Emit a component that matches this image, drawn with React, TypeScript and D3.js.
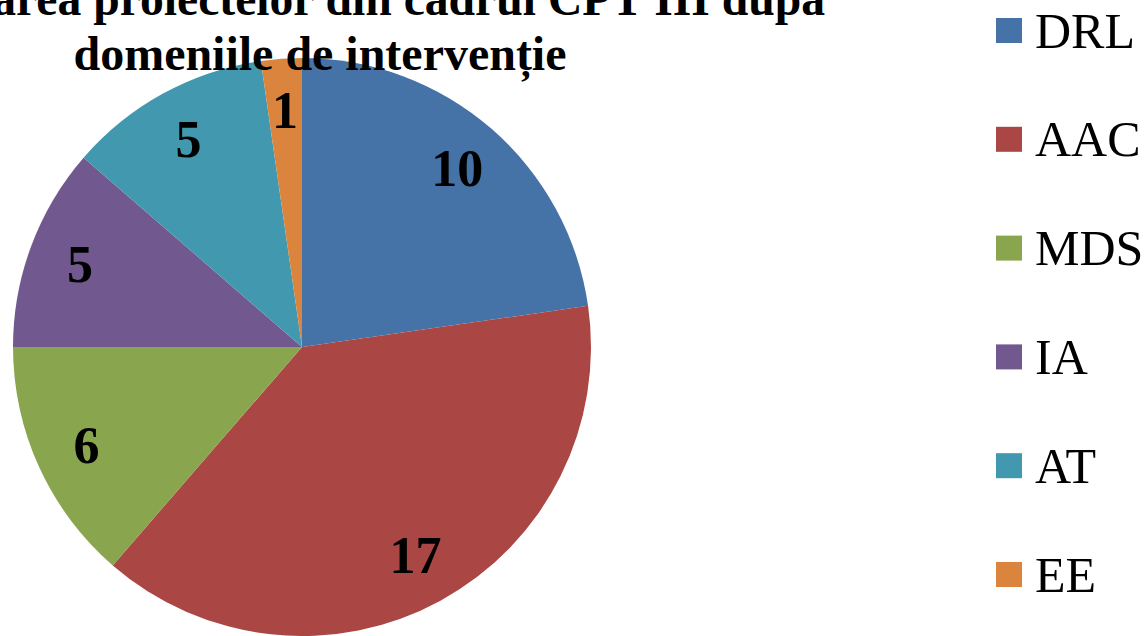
import React, { useEffect, useRef } from 'react';
import * as d3 from 'd3';

const categories = ['DRL', 'AAC', 'MDS', 'IA', 'AT', 'EE'];
const values = [10, 17, 6, 5, 5, 1];
const colors = ['#4572A7', '#AA4643', '#89A54E', '#71588F', '#4198AF', '#DB843D'];
const titleLines = ['Repartizarea proiectelor din cadrul CPT III după', 'domeniile de intervenție'];

interface Slice {
  name: string;
  value: number;
  color: string;
}

const App: React.FC = () => {
  const svgRef = useRef<SVGSVGElement>(null);

  useEffect(() => {
    if (!svgRef.current) return;
    const width = 1147;
    const height = 636;
    const svg = d3.select(svgRef.current);
    svg.selectAll('*').remove();
    svg.attr('width', width).attr('height', height);

    const data: Slice[] = categories.map((name, i) => ({ name, value: values[i], color: colors[i] }));

    const cx = 302;
    const cy = 347;
    const radius = 289;

    const pie = d3.pie<Slice>().value(d => d.value).sort(null);
    const arc = d3.arc<d3.PieArcDatum<Slice>>().innerRadius(0).outerRadius(radius);
    const labelArc = d3
      .arc<d3.PieArcDatum<Slice>>()
      .innerRadius(radius * 0.82)
      .outerRadius(radius * 0.82);

    const g = svg.append('g').attr('transform', `translate(${cx},${cy})`);
    const arcs = pie(data);

    g.selectAll('path.slice')
      .data(arcs)
      .enter()
      .append('path')
      .attr('class', 'slice')
      .attr('d', arc)
      .attr('fill', d => d.data.color);

    g.selectAll('text.lbl')
      .data(arcs)
      .enter()
      .append('text')
      .attr('class', 'lbl')
      .attr('transform', d => `translate(${labelArc.centroid(d)})`)
      .attr('text-anchor', 'middle')
      .attr('dy', '0.34em')
      .style('font-family', '"Liberation Serif", serif')
      .style('font-weight', 'bold')
      .style('font-size', '52px')
      .attr('fill', '#000')
      .text(d => d.data.value);

    // Title (its first line runs off the top/left edge like the original)
    const title = svg
      .append('g')
      .style('font-family', '"Liberation Serif", serif')
      .style('font-weight', 'bold')
      .style('font-size', '48px')
      .attr('fill', '#000');
    title
      .append('text')
      .attr('x', 320)
      .attr('y', 15)
      .attr('text-anchor', 'middle')
      .attr('textLength', 1010)
      .attr('lengthAdjust', 'spacingAndGlyphs')
      .text(titleLines[0]);
    title
      .append('text')
      .attr('x', 320)
      .attr('y', 70)
      .attr('text-anchor', 'middle')
      .attr('textLength', 493)
      .attr('lengthAdjust', 'spacingAndGlyphs')
      .text(titleLines[1]);

    // Legend
    const legendY = d3
      .scalePoint<string>()
      .domain(categories)
      .range([30.5, 574.5]);
    const legend = svg
      .append('g')
      .selectAll('g')
      .data(data)
      .enter()
      .append('g')
      .attr('transform', d => `translate(996,${legendY(d.name)})`);
    legend
      .append('rect')
      .attr('x', 0)
      .attr('y', -12.5)
      .attr('width', 26)
      .attr('height', 25)
      .attr('fill', d => d.color);
    legend
      .append('text')
      .attr('x', 39)
      .attr('dy', '0.34em')
      .style('font-family', '"Liberation Serif", serif')
      .style('font-size', '50px')
      .attr('fill', '#000')
      .text(d => d.name);
  }, []);

  return (
    <svg
      ref={svgRef}
      style={{ position: 'absolute', left: 0, top: 0, display: 'block' }}
    ></svg>
  );
};

export default App;
